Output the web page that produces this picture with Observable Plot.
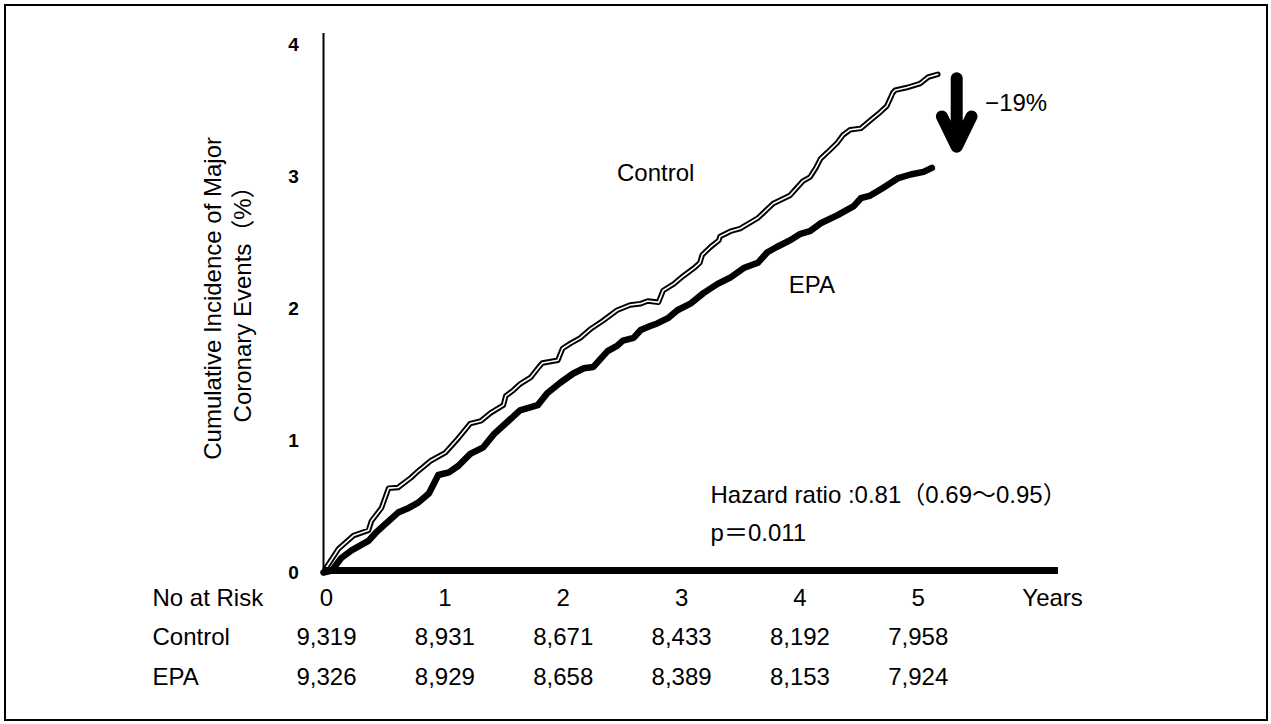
<!DOCTYPE html>
<html>
<head>
<meta charset="utf-8">
<script src="https://cdn.jsdelivr.net/npm/d3@7"></script>
<script src="https://cdn.jsdelivr.net/npm/@observablehq/plot@0.6"></script>
<style>
  html, body { margin: 0; padding: 0; background: #fff; }
  #wrap { position: relative; width: 1271px; height: 724px; overflow: hidden; }
  #frame { position: absolute; left: 4px; top: 4px; width: 1264px; height: 717px; box-sizing: border-box; border: 2px solid #000; pointer-events: none; }
</style>
</head>
<body>
<div id="wrap"><div id="chart"></div><div id="frame"></div></div>
<script>
// ---- data ----
const years = [0, 1, 2, 3, 4, 5];
const controlAtRisk = [9319, 8931, 8671, 8433, 8192, 7958];
const epaAtRisk = [9326, 8929, 8658, 8389, 8153, 7924];
const rowLabels = ["No at Risk", "Control", "EPA"];
const yTicks = [0, 1, 2, 3, 4];

const controlT = [0, 0.025, 0.127, 0.253, 0.38, 0.405, 0.49, 0.55, 0.63, 0.74, 0.80, 0.91, 1.03, 1.14, 1.24, 1.33, 1.41, 1.52, 1.54, 1.60, 1.66, 1.75, 1.82, 1.85, 1.98, 2.02, 2.09, 2.17, 2.26, 2.36, 2.48, 2.59, 2.68, 2.74, 2.83, 2.87, 2.96, 3.04, 3.13, 3.18, 3.20, 3.27, 3.34, 3.35, 3.44, 3.52, 3.67, 3.80, 3.94, 4.00, 4.05, 4.11, 4.16, 4.20, 4.26, 4.34, 4.39, 4.45, 4.54, 4.62, 4.70, 4.76, 4.81, 4.83, 4.93, 5.04, 5.11, 5.19];
const controlY = [0, 0.04, 0.18, 0.28, 0.32, 0.39, 0.49, 0.64, 0.645, 0.72, 0.77, 0.85, 0.91, 1.02, 1.13, 1.15, 1.21, 1.27, 1.34, 1.38, 1.43, 1.48, 1.56, 1.59, 1.61, 1.70, 1.74, 1.78, 1.85, 1.91, 1.99, 2.03, 2.04, 2.06, 2.05, 2.14, 2.19, 2.25, 2.31, 2.35, 2.41, 2.47, 2.52, 2.55, 2.59, 2.61, 2.69, 2.80, 2.86, 2.92, 2.97, 3.00, 3.07, 3.14, 3.19, 3.26, 3.32, 3.36, 3.37, 3.43, 3.49, 3.54, 3.64, 3.66, 3.68, 3.71, 3.76, 3.78];

const epaT = [0, 0.07, 0.15, 0.24, 0.38, 0.44, 0.55, 0.63, 0.72, 0.80, 0.89, 0.97, 1.06, 1.14, 1.24, 1.35, 1.44, 1.55, 1.66, 1.81, 1.89, 2.00, 2.11, 2.20, 2.28, 2.40, 2.48, 2.53, 2.62, 2.68, 2.76, 2.82, 2.91, 2.99, 3.10, 3.21, 3.33, 3.44, 3.55, 3.67, 3.75, 3.83, 3.94, 4.03, 4.11, 4.20, 4.34, 4.48, 4.54, 4.62, 4.73, 4.85, 4.96, 5.07, 5.14];
const epaY = [0, 0.015, 0.11, 0.17, 0.24, 0.30, 0.39, 0.455, 0.49, 0.53, 0.60, 0.74, 0.76, 0.81, 0.90, 0.95, 1.05, 1.14, 1.23, 1.27, 1.36, 1.44, 1.51, 1.55, 1.56, 1.68, 1.72, 1.76, 1.78, 1.84, 1.87, 1.89, 1.93, 1.99, 2.04, 2.12, 2.19, 2.24, 2.31, 2.35, 2.43, 2.47, 2.52, 2.57, 2.59, 2.65, 2.71, 2.78, 2.84, 2.86, 2.92, 2.99, 3.02, 3.04, 3.07];

const control = controlT.map((t, i) => ({t, y: controlY[i]}));
const epa = epaT.map((t, i) => ({t, y: epaY[i]}));
const fmt = d3.format(",");

const FS = 24;
const chart = Plot.plot({
  width: 1271,
  height: 724,
  marginLeft: 323,
  marginRight: 213,
  marginTop: 33,
  marginBottom: 152,
  style: {fontFamily: "'Liberation Sans', Arial, 'Noto Sans CJK JP', sans-serif", background: "transparent", color: "#000"},
  x: {domain: [0, 6.21], axis: null},
  y: {domain: [0, 4.09], axis: null},
  marks: [
    // y tick labels
    Plot.text(yTicks, {x: 0, y: d => d, dx: -30, text: d => String(d), fontSize: 19, fontWeight: "bold", textAnchor: "middle"}),
    Plot.ruleX([0], {stroke: "#000", strokeWidth: 2}),
    // curves
    Plot.line(control, {x: "t", y: "y", stroke: "#000", strokeWidth: 5.5, strokeLinejoin: "round"}),
    Plot.line(control, {x: "t", y: "y", stroke: "#fff", strokeWidth: 1.6, strokeLinejoin: "round"}),
    Plot.line(epa, {x: "t", y: "y", stroke: "#000", strokeWidth: 6.5, strokeLinejoin: "round", strokeLinecap: "round"}),
    Plot.ruleY([0], {stroke: "#000", strokeWidth: 7, dy: -2}),
    // y label
    Plot.text(["Cumulative Incidence of Major\nCoronary Events（%）"], {x: -0.82, y: 2.08, rotate: -90, fontSize: 24, lineHeight: 1.25, textAnchor: "middle"}),
    // annotations
    Plot.text(["Control"], {x: 2.48, y: 3.03, textAnchor: "start", fontSize: FS}),
    Plot.text(["EPA"], {x: 3.93, y: 2.18, textAnchor: "start", fontSize: FS}),
    Plot.arrow([{x: 5.35, y1: 4.0, y2: 3.23}], {x1: "x", x2: "x", y1: "y1", y2: "y2", insetStart: 33, stroke: "#000", strokeWidth: 12, headAngle: 52}),
    Plot.text(["−19%"], {x: 5.59, y: 3.56, textAnchor: "start", fontSize: FS}),
    Plot.text(["Hazard ratio :0.81（0.69〜0.95）"], {x: 3.27, y: 0.585, textAnchor: "start", fontSize: FS}),
    Plot.text(["p＝0.011"], {x: 3.27, y: 0.30, textAnchor: "start", fontSize: FS}),
    // number at risk table
    Plot.text([rowLabels[0]], {frameAnchor: "left", y: 0, dx: -171, dy: 26, textAnchor: "start", fontSize: FS}),
    Plot.text([rowLabels[1]], {frameAnchor: "left", y: 0, dx: -171, dy: 65, textAnchor: "start", fontSize: FS}),
    Plot.text([rowLabels[2]], {frameAnchor: "left", y: 0, dx: -171, dy: 105, textAnchor: "start", fontSize: FS}),
    Plot.text(years, {x: d => d, y: 0, dx: 3, dy: 26, text: d => String(d), fontSize: FS}),
    Plot.text(["Years"], {x: 6.16, y: 0, dy: 26, fontSize: FS}),
    Plot.text(years, {x: d => d, y: 0, dx: 3, dy: 65, text: (d, i) => fmt(controlAtRisk[i]), fontSize: FS}),
    Plot.text(years, {x: d => d, y: 0, dx: 3, dy: 105, text: (d, i) => fmt(epaAtRisk[i]), fontSize: FS})
  ]
});
document.getElementById("chart").appendChild(chart);
</script>
</body>
</html>
